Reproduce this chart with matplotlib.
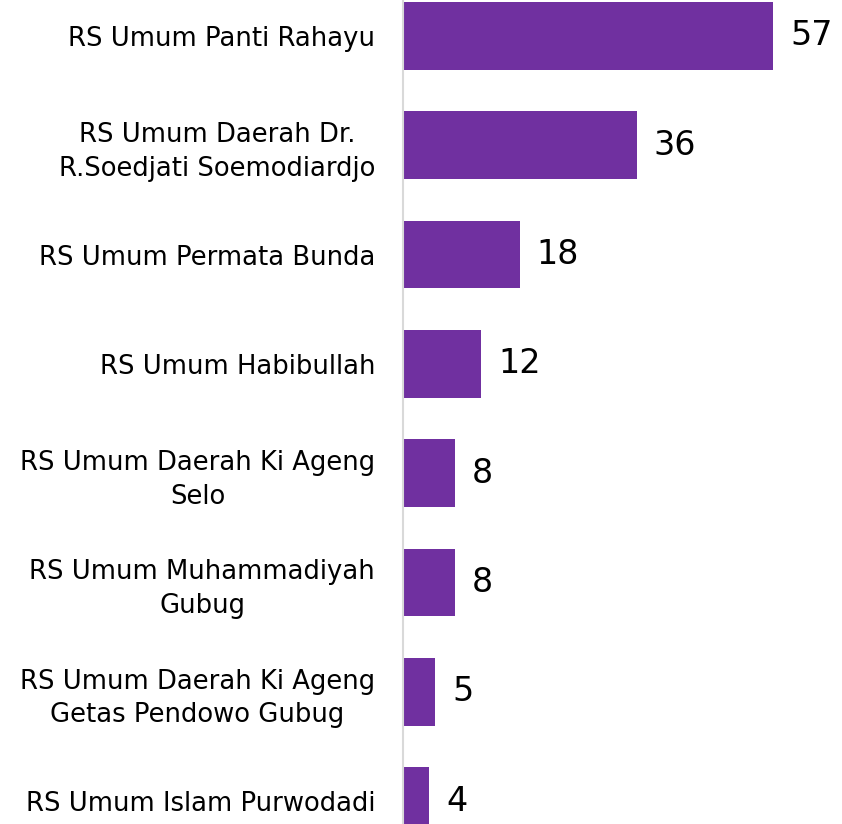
import matplotlib
matplotlib.use("Agg")
import matplotlib.pyplot as plt

categories = [
    "RS Umum Panti Rahayu",
    "RS Umum Daerah Dr.\nR.Soedjati Soemodiardjo",
    "RS Umum Permata Bunda",
    "RS Umum Habibullah",
    "RS Umum Daerah Ki Ageng\nSelo",
    "RS Umum Muhammadiyah\nGubug",
    "RS Umum Daerah Ki Ageng\nGetas Pendowo Gubug",
    "RS Umum Islam Purwodadi",
]
values = [57, 36, 18, 12, 8, 8, 5, 4]

W, H = 842, 824
fig = plt.figure(figsize=(W / 100, H / 100), dpi=100)
ax_left = 403 / W
ax = fig.add_axes([ax_left, 0, 1 - ax_left, 1])

ypos = list(range(len(categories)))
ax.barh(ypos, values, height=0.62, color="#7030A0")

scale = (773 - 403) / 57.0
ax.set_xlim(0, (W - 403) / scale)
top = -36 / 109.3
bottom = 7 + (H - 801) / 109.3
ax.set_ylim(bottom, top)

for y, v in zip(ypos, values):
    ax.annotate(str(v), (v, y), xytext=(17, 0), textcoords="offset pixels",
                ha="left", va="center", fontsize=24, color="black")

ax.set_yticks(ypos)
ax.set_yticklabels(categories, fontsize=18.6, multialignment="center",
                   linespacing=1.37)
ax.tick_params(axis="y", length=0, pad=28 * 72 / 100)
ax.set_xticks([])
for s in ["top", "right", "bottom"]:
    ax.spines[s].set_visible(False)
ax.spines["left"].set_color("#D9D9D9")
ax.spines["left"].set_linewidth(1.5)

fig.savefig("out.png", dpi=100)
